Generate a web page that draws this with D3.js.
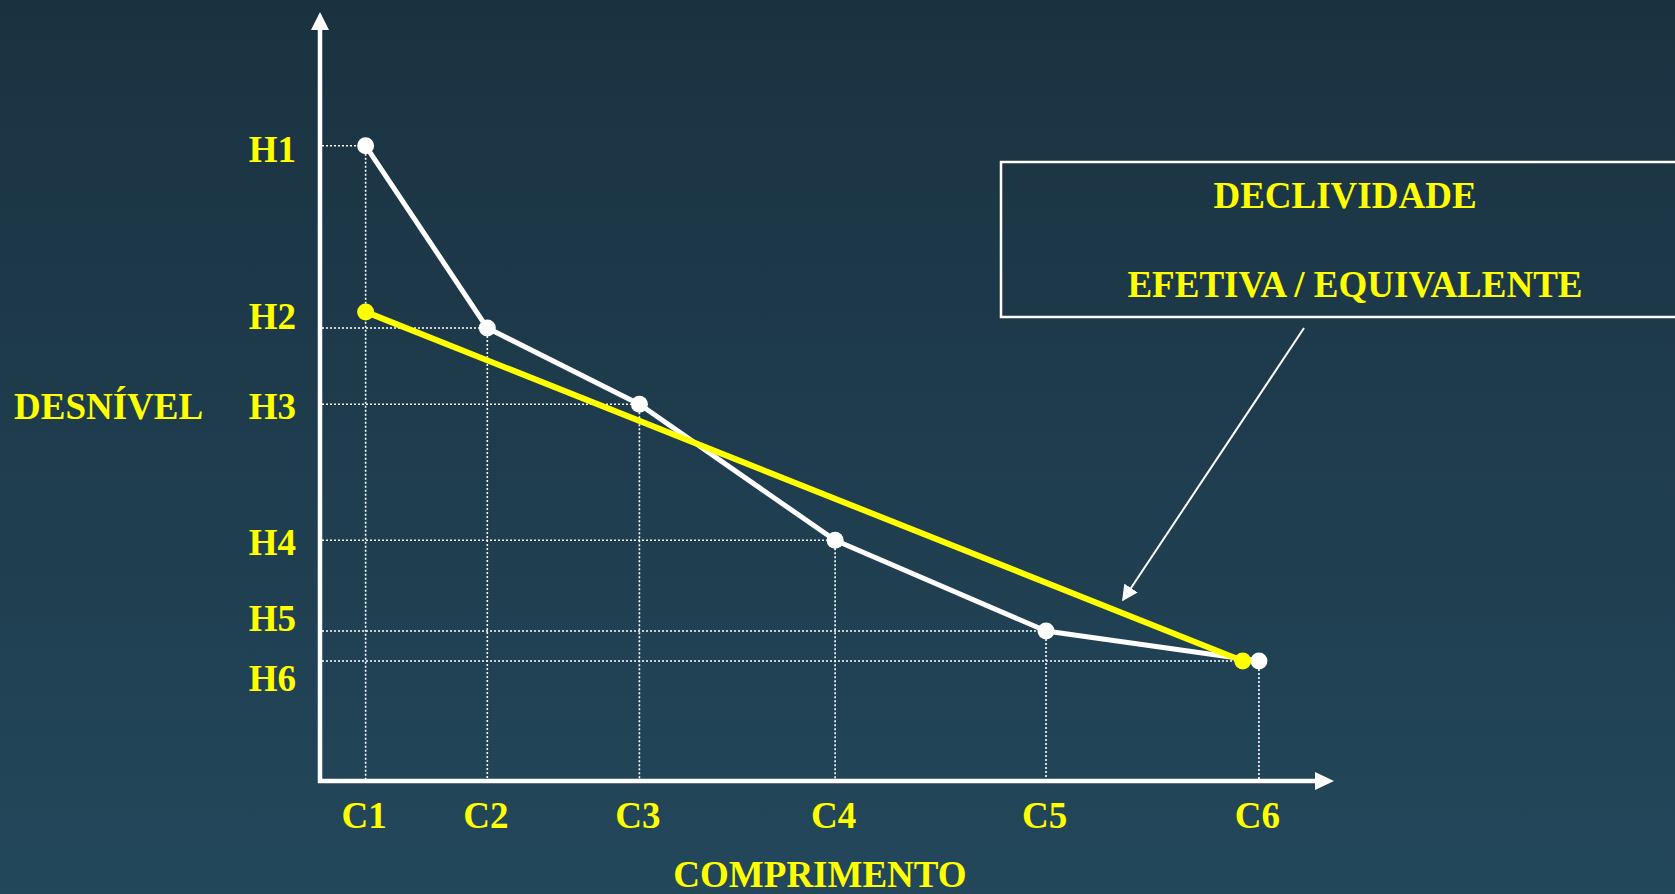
<!DOCTYPE html>
<html>
<head>
<meta charset="utf-8">
<script src="https://cdn.jsdelivr.net/npm/d3@7"></script>
<style>
  html, body { margin: 0; padding: 0; background: #1e3b4d; }
  svg { display: block; }
  text { font-family: "Liberation Serif", "Times New Roman", serif; font-weight: bold; fill: #ffff00; }
</style>
</head>
<body>
<div id="chart"></div>
<script>
// comprimento (x) and desnivel (y) of each point, in arbitrary units
var cLabels = ["C1", "C2", "C3", "C4", "C5", "C6"]
var hLabels = ["H1", "H2", "H3", "H4", "H5", "H6"]
var comprimento = [4.5, 16.5, 31.5, 50.8, 71.6, 92.6]
var desnivel = [82.6, 58.9, 49.0, 31.3, 19.5, 15.6]
// effective / equivalent slope (straight line)
var equivX = [4.5, 91.0]
var equivY = [61.0, 15.6]

var W = 1675, H = 894

var svg = d3.select("#chart").append("svg")
  .attr("width", W)
  .attr("height", H)

// background gradient
var defs = svg.append("defs")
var bg = defs.append("linearGradient").attr("id", "bg")
  .attr("x1", 0).attr("y1", 0).attr("x2", 0).attr("y2", 1)
bg.append("stop").attr("offset", "0%").attr("stop-color", "#1a3240")
bg.append("stop").attr("offset", "100%").attr("stop-color", "#23475b")
svg.append("rect").attr("width", W).attr("height", H).style("fill", "url(#bg)")

var x = d3.scaleLinear().domain([0, 100]).range([320, 1334])
var y = d3.scaleLinear().domain([0, 100]).range([781, 12])

var pts = comprimento.map(function(c, i){ return [c, desnivel[i]] })

// dotted guide lines
var guides = svg.append("g")
guides.selectAll("line.h")
  .data(pts).enter().append("line")
  .attr("x1", x(0) + 2).attr("x2", function(d){ return x(d[0]) })
  .attr("y1", function(d){ return y(d[1]) }).attr("y2", function(d){ return y(d[1]) })
guides.selectAll("line.v")
  .data(pts).enter().append("line")
  .attr("x1", function(d){ return x(d[0]) }).attr("x2", function(d){ return x(d[0]) })
  .attr("y1", function(d){ return y(d[1]) }).attr("y2", y(0) - 2)
guides.selectAll("line")
  .style("stroke", "#ffffff").style("stroke-width", 1.6).style("stroke-dasharray", "2,2")

// axes (with arrow heads)
svg.append("line")
  .attr("x1", x(0)).attr("y1", y(0) + 2).attr("x2", x(0)).attr("y2", 26)
  .style("stroke", "#fff").style("stroke-width", 4.5)
svg.append("path")
  .attr("d", "M" + x(0) + "," + y(100) + " L" + (x(0) - 9) + ",30 L" + (x(0) + 9) + ",30 Z")
  .style("fill", "#fff")
svg.append("line")
  .attr("x1", x(0) - 2).attr("y1", y(0)).attr("x2", 1320).attr("y2", y(0))
  .style("stroke", "#fff").style("stroke-width", 4.5)
svg.append("path")
  .attr("d", "M" + x(100) + "," + y(0) + " L1315," + (y(0) - 9) + " L1315," + (y(0) + 9) + " Z")
  .style("fill", "#fff")

var line = d3.line()
  .x(function(d){ return x(d[0]) })
  .y(function(d){ return y(d[1]) })

// real profile (white)
svg.append("path")
  .datum(pts)
  .attr("d", line)
  .style("fill", "none").style("stroke", "#fff").style("stroke-width", 5)
  .style("stroke-linejoin", "round")
svg.selectAll("circle.w")
  .data(pts).enter().append("circle")
  .attr("cx", function(d){ return x(d[0]) })
  .attr("cy", function(d){ return y(d[1]) })
  .attr("r", 8.5)
  .style("fill", "#fff")

// equivalent slope (yellow)
var eq = equivX.map(function(c, i){ return [c, equivY[i]] })
svg.append("path")
  .datum(eq)
  .attr("d", line)
  .style("fill", "none").style("stroke", "#ffff00").style("stroke-width", 6)
svg.selectAll("circle.y")
  .data(eq).enter().append("circle")
  .attr("cx", function(d){ return x(d[0]) })
  .attr("cy", function(d){ return y(d[1]) })
  .attr("r", 8.5)
  .style("fill", "#ffff00")

// C labels
var xAxis = d3.axisBottom(x)
  .tickValues(comprimento)
  .tickFormat(function(d, i){ return cLabels[i] })
  .tickSize(0)
var gx = svg.append("g").attr("transform", "translate(-2," + y(0) + ")").call(xAxis)
gx.select(".domain").remove()
gx.selectAll("text")
  .attr("y", 47).attr("dy", 0)
  .style("font-size", "37px").style("font-family", "Liberation Serif, serif")
  .style("font-weight", "bold").style("fill", "#ffff00")

// H labels (slightly shifted like on the slide)
var labelShift = [3, -12, 2, 2, -13, 17]
svg.selectAll("text.h")
  .data(desnivel).enter().append("text")
  .attr("x", 296)
  .attr("y", function(d, i){ return y(d) + 13 + labelShift[i] })
  .attr("text-anchor", "end")
  .style("font-size", "37px")
  .text(function(d, i){ return hLabels[i] })

// axis titles
svg.append("text")
  .attr("x", 14).attr("y", 419)
  .style("font-size", "37px")
  .text("DESNÍVEL")
svg.append("text")
  .attr("x", 820).attr("y", 887)
  .attr("text-anchor", "middle")
  .style("font-size", "37px")
  .text("COMPRIMENTO")

// annotation box
svg.append("rect")
  .attr("x", 1001).attr("y", 162)
  .attr("width", 700).attr("height", 155)
  .style("fill", "none").style("stroke", "#fff").style("stroke-width", 2.5)
svg.append("text")
  .attr("x", 1345).attr("y", 208)
  .attr("text-anchor", "middle")
  .style("font-size", "37px")
  .text("DECLIVIDADE")
svg.append("text")
  .attr("x", 1355).attr("y", 297)
  .attr("text-anchor", "middle")
  .style("font-size", "37px")
  .text("EFETIVA / EQUIVALENTE")

// pointer arrow
defs.append("marker")
  .attr("id", "head")
  .attr("viewBox", "0 0 10 10")
  .attr("refX", 9).attr("refY", 5)
  .attr("markerWidth", 8).attr("markerHeight", 8)
  .attr("markerUnits", "strokeWidth")
  .attr("orient", "auto")
  .append("path").attr("d", "M0,0 L10,5 L0,10 Z").style("fill", "#fff")
svg.append("line")
  .attr("x1", 1304).attr("y1", 328)
  .attr("x2", 1123).attr("y2", 600)
  .attr("marker-end", "url(#head)")
  .style("stroke", "#fff").style("stroke-width", 2)
</script>
</body>
</html>
